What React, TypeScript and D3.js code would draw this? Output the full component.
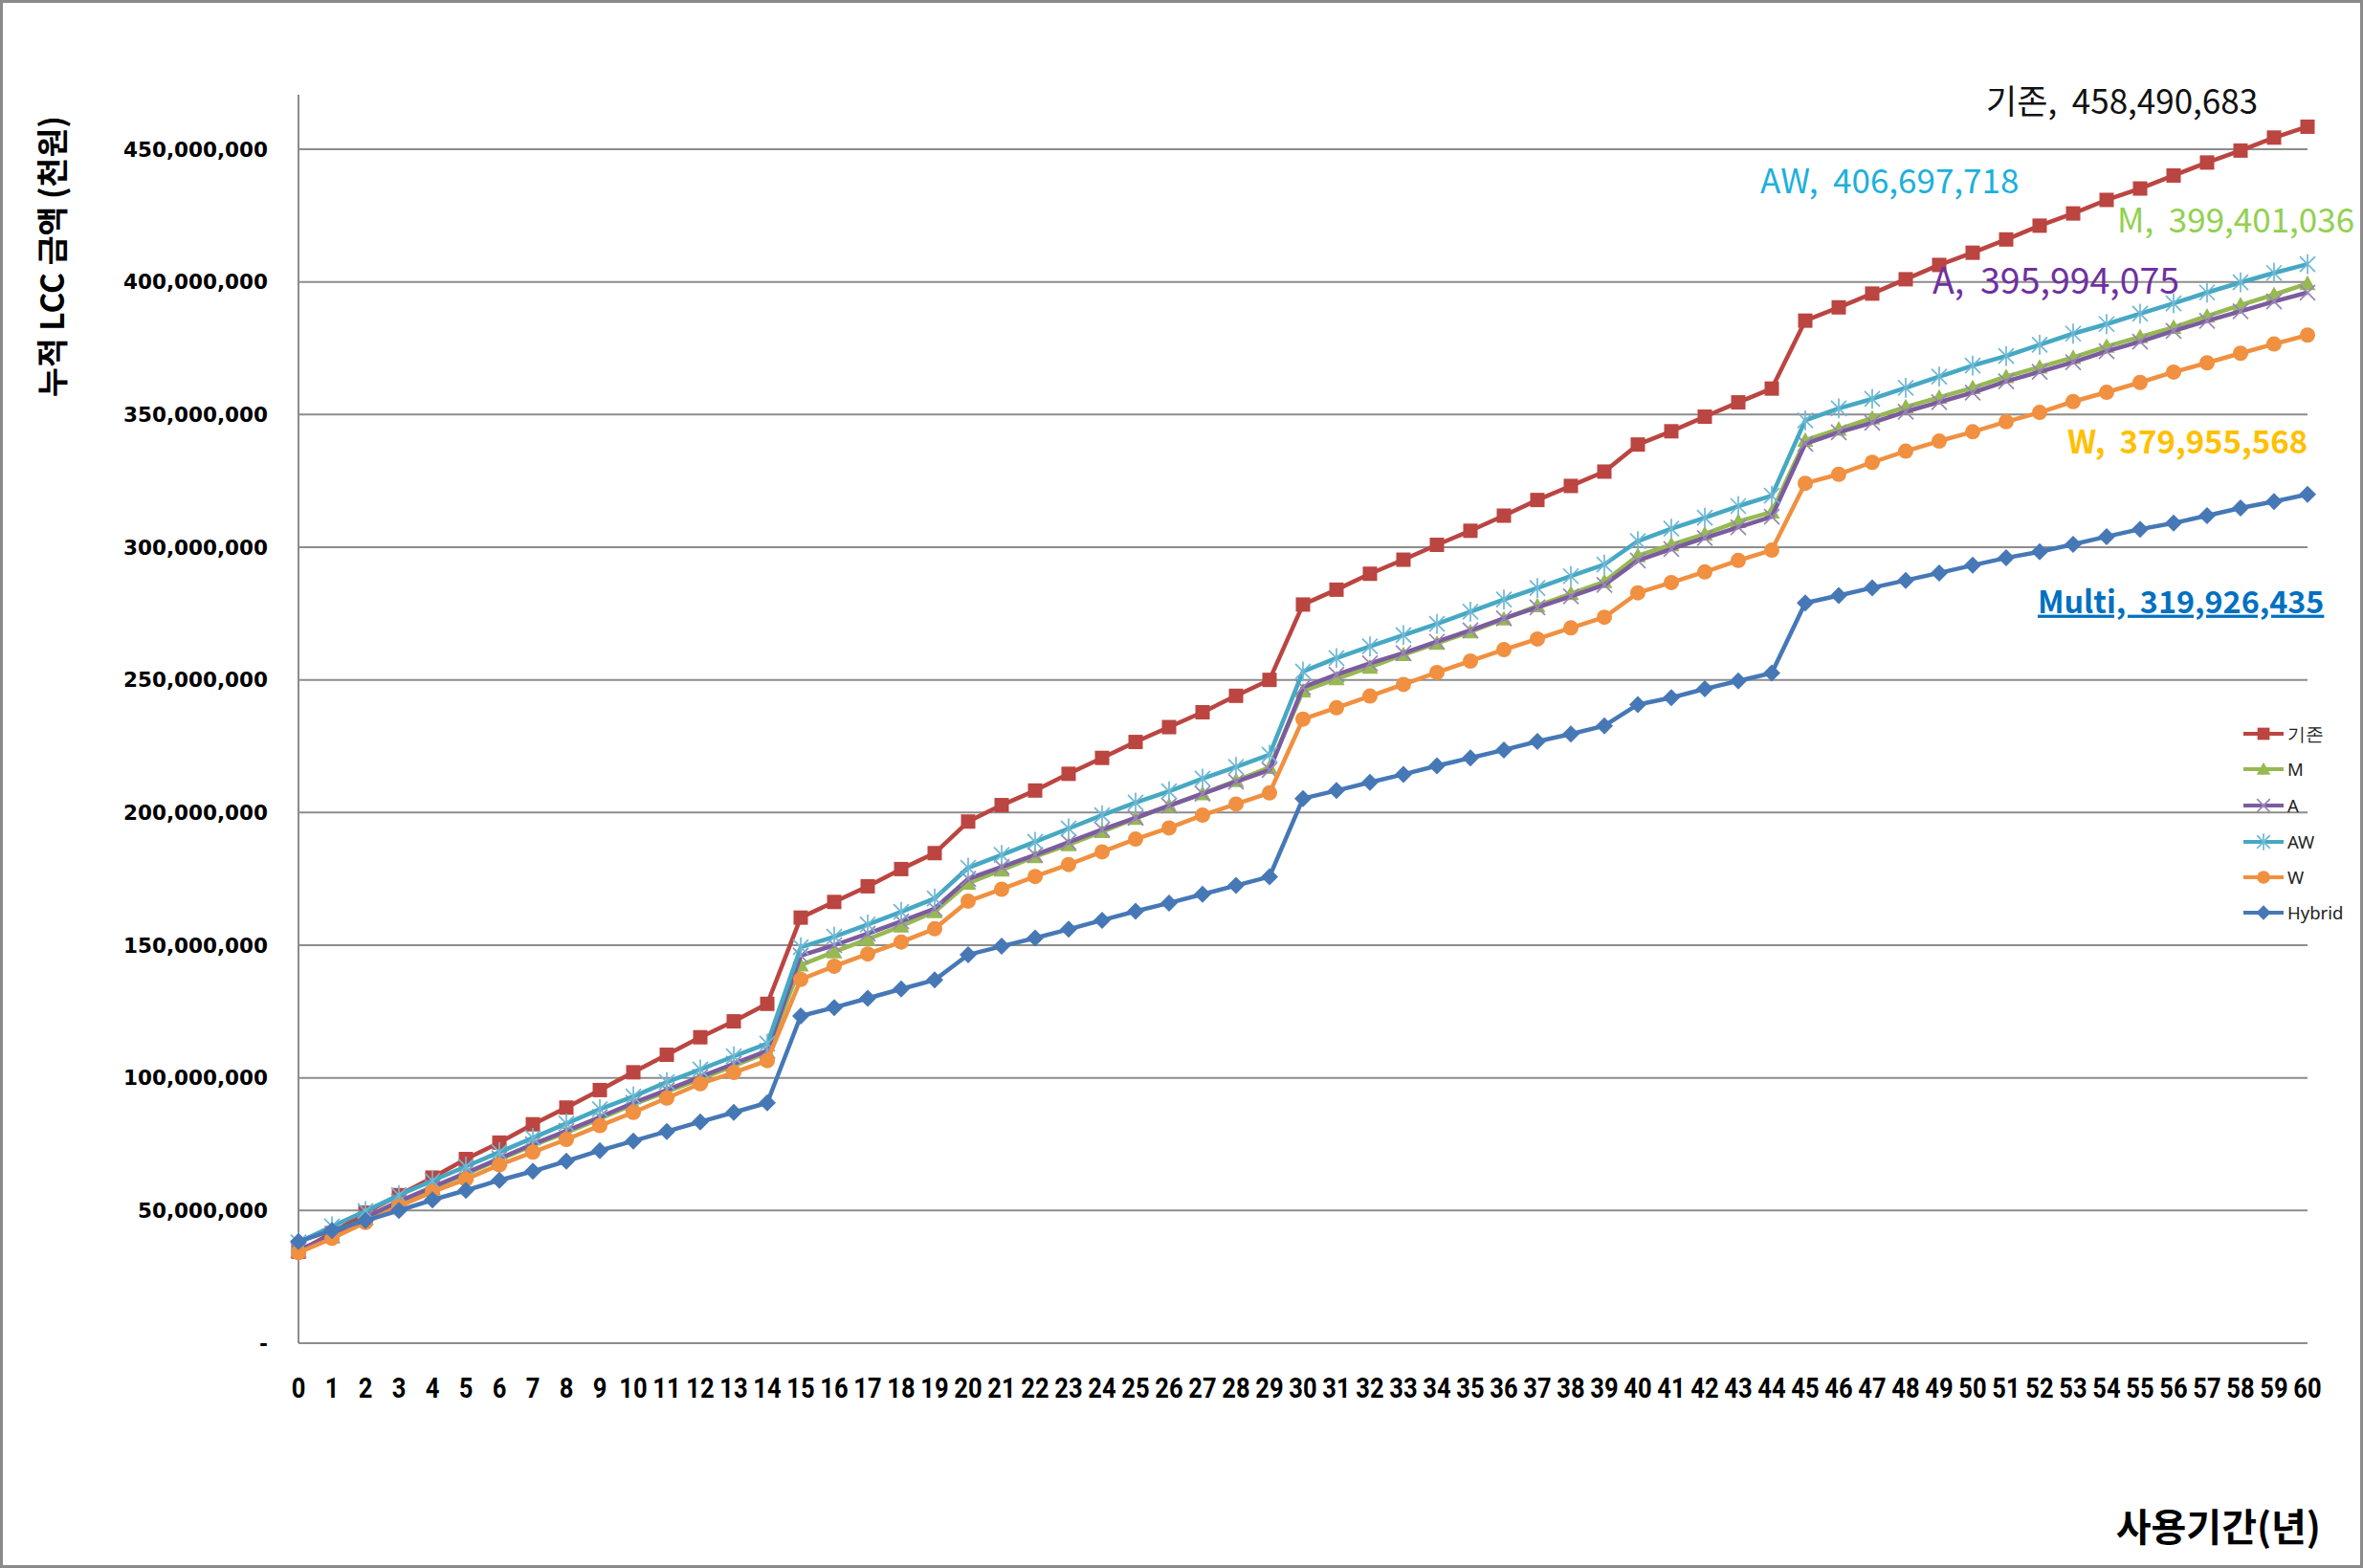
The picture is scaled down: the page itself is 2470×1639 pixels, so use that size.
import React from 'react';
import * as d3 from 'd3';

// ---------- DATA (values in millions, axis shows full amounts) ----------
const years = [0,1,2,3,4,5,6,7,8,9,10,11,12,13,14,15,16,17,18,19,20,21,22,23,24,25,26,27,28,29,30,31,32,33,34,35,36,37,38,39,40,41,42,43,44,45,46,47,48,49,50,51,52,53,54,55,56,57,58,59,60];

const base = [34.5,41.5,49.2,55.8,62.4,69.4,75.6,82.5,88.8,95.4,102.1,108.7,115.3,121.3,127.9,160.4,166.3,172.2,178.7,184.7,196.6,202.8,208.3,214.6,220.6,226.6,232.2,237.8,244.0,250.0,278.4,284.0,290.0,295.3,300.9,306.2,311.9,317.8,323.1,328.5,338.7,343.7,349.2,354.6,359.8,385.4,390.4,395.6,401.0,406.4,411.0,416.0,421.2,425.8,430.9,435.2,440.1,445.0,449.5,454.4,458.490683];
const seriesM = [34.8,40.2,47.0,53.0,58.4,63.8,69.2,74.6,79.4,84.6,90.0,94.8,99.6,104.5,109.6,142.5,147.5,152.3,157.2,162.6,173.4,178.3,183.4,187.9,192.8,197.8,202.6,207.1,212.0,217.0,245.8,250.4,254.8,259.5,263.8,268.1,273.0,277.9,282.5,287.0,296.8,300.9,305.0,309.7,313.3,340.3,344.5,348.7,352.9,356.5,360.1,364.3,367.9,371.5,375.7,379.3,382.9,387.1,391.3,395.2,399.401036];
const seriesA = [35.0,40.5,47.4,53.4,58.8,64.2,69.6,75.0,80.0,85.2,90.6,95.4,100.4,105.3,110.2,146.1,150.0,154.4,159.0,163.8,175.0,179.5,184.0,188.8,193.6,198.0,202.6,207.1,211.6,216.0,247.2,252.0,256.2,260.1,264.4,268.7,273.2,277.3,281.5,285.8,295.0,299.3,303.5,307.5,311.5,339.0,343.3,346.9,351.1,354.7,358.3,362.5,366.1,369.7,373.9,377.5,381.5,385.3,388.9,392.6,395.994075];
const seriesAW = [38.0,44.0,49.8,55.8,61.2,66.6,72.0,77.4,82.8,88.2,93.0,98.4,103.2,108.1,112.9,149.2,153.2,157.8,162.6,167.6,179.2,184.0,189.0,194.0,199.0,203.8,208.0,212.8,217.2,221.8,253.2,258.2,262.6,266.9,271.1,275.7,280.3,284.6,289.1,293.5,302.3,307.0,311.1,315.5,319.4,347.8,352.3,355.9,360.1,364.3,368.5,372.1,376.3,380.5,384.1,388.0,391.9,396.0,399.8,403.4,406.697718];
const seriesW = [34.1,39.5,45.5,51.6,57.0,61.8,67.2,72.0,76.8,82.0,87.0,92.4,97.8,102.0,106.5,137.1,142.1,146.7,151.2,156.2,166.6,171.1,175.9,180.4,185.2,190.0,194.2,199.0,203.2,207.4,235.2,239.5,243.9,248.3,252.8,257.1,261.4,265.4,269.6,273.6,282.8,286.7,290.7,295.0,298.9,324.1,327.5,332.0,336.2,340.0,343.5,347.3,350.8,354.9,358.4,362.1,366.0,369.5,373.1,376.6,379.955568];
const seriesHybrid = [38.3,42.5,46.2,50.0,54.0,57.6,61.4,64.8,68.6,72.6,76.2,79.8,83.4,87.0,90.6,123.3,126.5,130.0,133.5,136.9,146.4,149.6,152.7,156.0,159.4,162.8,165.9,169.2,172.5,175.8,205.3,208.3,211.4,214.4,217.6,220.6,223.6,226.8,229.6,232.7,240.7,243.3,246.6,249.6,252.6,279.0,281.8,284.7,287.5,290.3,293.2,296.0,298.3,301.1,304.0,306.8,309.1,311.9,314.8,317.2,319.926435];

const seriesNames = ['기존', 'M', 'A', 'AW', 'W', 'Hybrid'];
const labelNames = ['기존', 'M', 'A', 'AW', 'W', 'Multi'];
const yTicks = [0, 50, 100, 150, 200, 250, 300, 350, 400, 450];

const yTitle = '누적 LCC 금액 (천원)';
const xTitle = '사용기간(년)';

// ---------- STYLE / LAYOUT ----------
const W = 2470;
const H = 1639;
const seriesStyle = [
  { color: '#bb4541', marker: 'square' },
  { color: '#96b952', marker: 'triangle' },
  { color: '#7b5c9e', marker: 'x' },
  { color: '#46a8c3', marker: 'asterisk' },
  { color: '#f09040', marker: 'circle' },
  { color: '#4678b6', marker: 'diamond' },
];
const annot = [
  { x: 2076, y: 106, color: '#111111', weight: 400, size: 35, underline: false },
  { x: 2213, y: 230, color: '#92d050', weight: 400, size: 35, underline: false },
  { x: 2020, y: 293, color: '#7030a0', weight: 400, size: 37.5, underline: false },
  { x: 1840, y: 189, color: '#1cb0dc', weight: 400, size: 35, underline: false },
  { x: 2161, y: 462, color: '#ffc000', weight: 700, size: 33, underline: false },
  { x: 2130, y: 629, color: '#0070c0', weight: 700, size: 32.3, underline: true },
];
const legendY = [767, 804, 842, 880, 917, 954];

const allSeries = [base, seriesM, seriesA, seriesAW, seriesW, seriesHybrid];

function Marker({ type, cx, cy, color, s = 1 }: { type: string; cx: number; cy: number; color: string; s?: number }) {
  if (type === 'square') {
    const h = 7.5 * s;
    return <rect x={cx - h} y={cy - h} width={2 * h} height={2 * h} fill={color} />;
  }
  if (type === 'triangle') {
    const h = 8.5 * s;
    return <path d={`M${cx},${cy - h} L${cx + h},${cy + h * 0.8} L${cx - h},${cy + h * 0.8} Z`} fill={color} />;
  }
  if (type === 'circle') {
    return <circle cx={cx} cy={cy} r={8 * s} fill={color} />;
  }
  if (type === 'diamond') {
    const h = 9 * s;
    return <path d={`M${cx},${cy - h} L${cx + h},${cy} L${cx},${cy + h} L${cx - h},${cy} Z`} fill={color} />;
  }
  if (type === 'x') {
    const h = 8 * s;
    return (
      <path d={`M${cx - h},${cy - h} L${cx + h},${cy + h} M${cx - h},${cy + h} L${cx + h},${cy - h}`} stroke="#9a86b8" strokeWidth={1.7} fill="none" />
    );
  }
  if (type === 'asterisk') {
    const h = 8 * s;
    return (
      <path d={`M${cx - h},${cy - h} L${cx + h},${cy + h} M${cx - h},${cy + h} L${cx + h},${cy - h} M${cx},${cy - h * 1.3} L${cx},${cy + h * 1.3}`} stroke="#6fb8d4" strokeWidth={1.7} fill="none" />
    );
  }
  return null;
}

export default function App() {
  const x = d3.scaleLinear().domain([0, 60]).range([312, 2412]);
  const y = d3.scaleLinear().domain([0, 450]).range([1404, 156]);
  const axisTop = 99;
  const fmt = d3.format(',');
  const line = d3
    .line<number>()
    .x((_, i) => x(years[i]))
    .y((d) => y(d));

  return (
    <svg width={W} height={H} style={{ position: 'absolute', left: 0, top: 0, background: '#fff' }}>
      <rect x={0} y={0} width={W} height={H} fill="#fff" />
      <rect x={1.5} y={1.5} width={W - 3} height={H - 3} fill="none" stroke="#8a8a8a" strokeWidth={3} />

      {yTicks.map((t) => (
        <line key={t} x1={x(0)} x2={x(60)} y1={y(t)} y2={y(t)} stroke="#8c8c8c" strokeWidth={2} />
      ))}
      <line x1={x(0)} x2={x(0)} y1={y(0)} y2={axisTop} stroke="#8c8c8c" strokeWidth={2} />

      {yTicks.map((t) => (
        <text
          key={t}
          x={280}
          y={y(t)}
          dy="0.36em"
          textAnchor="end"
          fontFamily="'DejaVu Sans', Verdana, sans-serif"
          fontWeight={700}
          fontSize={21.5}
          fill="#000"
        >
          {t === 0 ? '-' : fmt(t * 1e6)}
        </text>
      ))}

      {years.map((yr) => (
        <text
          key={yr}
          transform={`translate(${x(yr)},${1461}) scale(0.85,1)`}
          textAnchor="middle"
          fontFamily="Roboto, sans-serif"
          fontWeight={700}
          fontSize={30}
          fill="#000"
        >
          {yr}
        </text>
      ))}

      <text
        transform={`translate(67,268) rotate(-90)`}
        textAnchor="middle"
        fontFamily="'Noto Sans CJK KR', sans-serif"
        fontWeight={700}
        fontSize={33.5}
        fill="#000"
      >
        {yTitle}
      </text>
      <text
        x={2426}
        y={1611}
        textAnchor="end"
        fontFamily="'Noto Sans CJK KR', sans-serif"
        fontWeight={700}
        fontSize={40}
        fill="#000"
      >
        {xTitle}
      </text>

      {allSeries.map((vals, si) => (
        <g key={si}>
          <path d={line(vals) || ''} fill="none" stroke={seriesStyle[si].color} strokeWidth={4.5} strokeLinejoin="round" />
          {vals.map((v, i) => (
            <Marker key={i} type={seriesStyle[si].marker} cx={x(years[i])} cy={y(v)} color={seriesStyle[si].color} />
          ))}
        </g>
      ))}

      {allSeries.map((vals, si) => {
        const a = annot[si];
        const last = vals[vals.length - 1];
        return (
          <text
            key={si}
            x={a.x}
            y={a.y}
            dy="0.36em"
            fontFamily="'Noto Sans CJK KR', sans-serif"
            fontWeight={a.weight}
            fontSize={a.size}
            fill={a.color}
            textDecoration={a.underline ? 'underline' : undefined}
            style={{ whiteSpace: 'pre' }}
          >
            {`${labelNames[si]},  ${fmt(Math.round(last * 1e6))}`}
          </text>
        );
      })}

      {seriesNames.map((n, si) => (
        <g key={n}>
          <line x1={2345} x2={2387} y1={legendY[si]} y2={legendY[si]} stroke={seriesStyle[si].color} strokeWidth={4} />
          <Marker type={seriesStyle[si].marker} cx={2366} cy={legendY[si]} color={seriesStyle[si].color} s={0.85} />
          <text x={2391} y={legendY[si]} dy="0.36em" fontFamily="'Noto Sans', sans-serif" fontSize={18.5} fill="#222">
            {n}
          </text>
        </g>
      ))}
    </svg>
  );
}
